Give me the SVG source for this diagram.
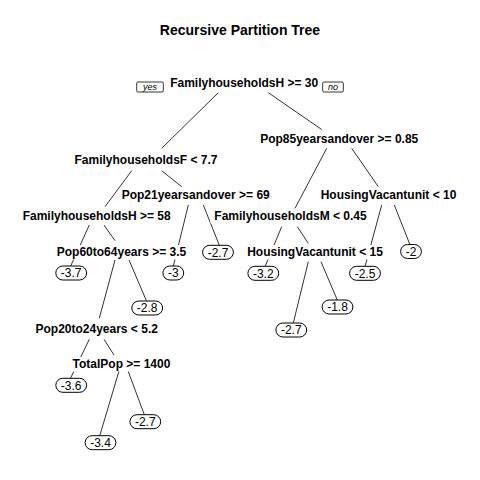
<svg xmlns="http://www.w3.org/2000/svg" width="480" height="480" viewBox="0 0 480 480">
<style>
.title{font-family:"Liberation Sans",Arial,sans-serif;font-size:14px;font-weight:bold;fill:#000;text-anchor:middle}
.split{font-family:"Liberation Sans",Arial,sans-serif;font-size:12px;font-weight:bold;fill:#000;text-anchor:middle}
.leaf{font-family:"Liberation Sans",Arial,sans-serif;font-size:12px;fill:#000;text-anchor:middle}
.yn{font-family:"Liberation Sans",Arial,sans-serif;font-size:9px;font-style:italic;fill:#000;text-anchor:middle}
.bg{fill:#fff;stroke:none}
.lbox{fill:#fff;stroke:#000;stroke-width:1}
.ynbox{fill:#fff;stroke:#000;stroke-width:0.8}
#connectors line{stroke:#333;stroke-width:1;fill:none}
</style>
<rect width="480" height="480" fill="#fff"/>
<text class="title" x="240" y="35">Recursive Partition Tree</text>

<g id="connectors">
<line x1="218.3" y1="92.7" x2="161.7" y2="148.3"/>
<line x1="268.3" y1="92.7" x2="321.7" y2="129.5"/>
<line x1="131.7" y1="170.7" x2="105" y2="206.7"/>
<line x1="161.7" y1="170.7" x2="181.7" y2="186.7"/>
<line x1="89.3" y1="225" x2="70.7" y2="266"/>
<line x1="104" y1="225" x2="115" y2="240.7"/>
<line x1="115" y1="260" x2="99.3" y2="318.3"/>
<line x1="129" y1="260" x2="146.5" y2="301"/>
<line x1="89.3" y1="339.3" x2="70.5" y2="378.3"/>
<line x1="104" y1="339.3" x2="114" y2="355"/>
<line x1="119.3" y1="370" x2="99.8" y2="435.5"/>
<line x1="127.7" y1="370" x2="144.3" y2="414.7"/>
<line x1="188.3" y1="205" x2="173.3" y2="266.3"/>
<line x1="203.3" y1="205" x2="219.3" y2="245.2"/>
<line x1="326.7" y1="148.3" x2="295" y2="208.3"/>
<line x1="351.7" y1="148.3" x2="378.3" y2="186.7"/>
<line x1="281.7" y1="226.7" x2="265" y2="266.6"/>
<line x1="297.3" y1="226.7" x2="308.3" y2="243.3"/>
<line x1="308.3" y1="261.7" x2="293.3" y2="323"/>
<line x1="321" y1="261.7" x2="337.3" y2="300"/>
<line x1="381.7" y1="205" x2="365" y2="266.6"/>
<line x1="394.3" y1="205" x2="410" y2="244.8"/>
</g>

<g id="n1">
<rect class="bg" x="168" y="75.5" width="152" height="14.5"/>
<text class="split" x="244.2" y="86.5">FamilyhouseholdsH &gt;= 30</text>
<rect class="ynbox" x="136.7" y="82" width="26.6" height="10" rx="1.2"/>
<text class="yn" x="150" y="89.8">yes</text>
<rect class="ynbox" x="322.7" y="82" width="20.6" height="10" rx="1.2"/>
<text class="yn" x="333" y="89.8">no</text>
</g>
<g id="n2">
<rect class="bg" x="72.5" y="153" width="147" height="14.5"/>
<text class="split" x="146" y="164">FamilyhouseholdsF &lt; 7.7</text>
</g>
<g id="n3">
<rect class="bg" x="258.2" y="132" width="162" height="14.5"/>
<text class="split" x="339.2" y="143">Pop85yearsandover &gt;= 0.85</text>
</g>
<g id="n4">
<rect class="bg" x="22.7" y="208.5" width="148" height="14.5"/>
<text class="split" x="96.7" y="219.5">FamilyhouseholdsH &gt;= 58</text>
</g>
<g id="n5">
<rect class="bg" x="119.7" y="188" width="152" height="14.5"/>
<text class="split" x="195.7" y="199">Pop21yearsandover &gt;= 69</text>
</g>
<g id="n6">
<rect class="bg" x="210.5" y="209" width="158.2" height="14.5"/>
<text class="split" x="290.5" y="220">FamilyhouseholdsM &lt; 0.45</text>
</g>
<g id="n7">
<rect class="bg" x="319" y="187.5" width="140" height="14.5"/>
<text class="split" x="388.5" y="198.5">HousingVacantunit &lt; 10</text>
</g>
<g id="n8">
<rect class="bg" x="55" y="245" width="133" height="14.5"/>
<text class="split" x="121.5" y="256">Pop60to64years &gt;= 3.5</text>
</g>
<g id="n9">
<rect class="bg" x="245" y="245" width="140" height="14.5"/>
<text class="split" x="315" y="256">HousingVacantunit &lt; 15</text>
</g>
<g id="n10">
<rect class="bg" x="33.5" y="321.7" width="126.4" height="14.5"/>
<text class="split" x="96.7" y="332.7">Pop20to24years &lt; 5.2</text>
</g>
<g id="n11">
<rect class="bg" x="70" y="357" width="103" height="14.5"/>
<text class="split" x="121.5" y="368">TotalPop &gt;= 1400</text>
</g>

<g id="l1"><rect class="lbox" x="55.8" y="266" width="30.8" height="14" rx="7"/><text class="leaf" x="71.2" y="277.3">-3.7</text></g>
<g id="l2"><rect class="lbox" x="162.9" y="266" width="20.8" height="14" rx="7"/><text class="leaf" x="173.3" y="277.3">-3</text></g>
<g id="l3"><rect class="lbox" x="202.6" y="245.3" width="30.8" height="14" rx="7"/><text class="leaf" x="218" y="256.6">-2.7</text></g>
<g id="l4"><rect class="lbox" x="131.8" y="301" width="30.8" height="14" rx="7"/><text class="leaf" x="147.2" y="312.3">-2.8</text></g>
<g id="l5"><rect class="lbox" x="55.8" y="378.3" width="30.8" height="14" rx="7"/><text class="leaf" x="71.2" y="389.6">-3.6</text></g>
<g id="l6"><rect class="lbox" x="85.1" y="435.7" width="30.8" height="14" rx="7"/><text class="leaf" x="100.5" y="447">-3.4</text></g>
<g id="l7"><rect class="lbox" x="129.9" y="414.7" width="30.8" height="14" rx="7"/><text class="leaf" x="145.3" y="426">-2.7</text></g>
<g id="l8"><rect class="lbox" x="247.9" y="266.3" width="30.8" height="14" rx="7"/><text class="leaf" x="263.3" y="277.6">-3.2</text></g>
<g id="l9"><rect class="lbox" x="349.6" y="266.3" width="30.8" height="14" rx="7"/><text class="leaf" x="365" y="277.6">-2.5</text></g>
<g id="l10"><rect class="lbox" x="400.6" y="244.5" width="20.8" height="14" rx="7"/><text class="leaf" x="411" y="255.8">-2</text></g>
<g id="l11"><rect class="lbox" x="322.1" y="300" width="30.8" height="14" rx="7"/><text class="leaf" x="337.5" y="311.3">-1.8</text></g>
<g id="l12"><rect class="lbox" x="275.9" y="323" width="30.8" height="14" rx="7"/><text class="leaf" x="291.3" y="334.3">-2.7</text></g>
</svg>
